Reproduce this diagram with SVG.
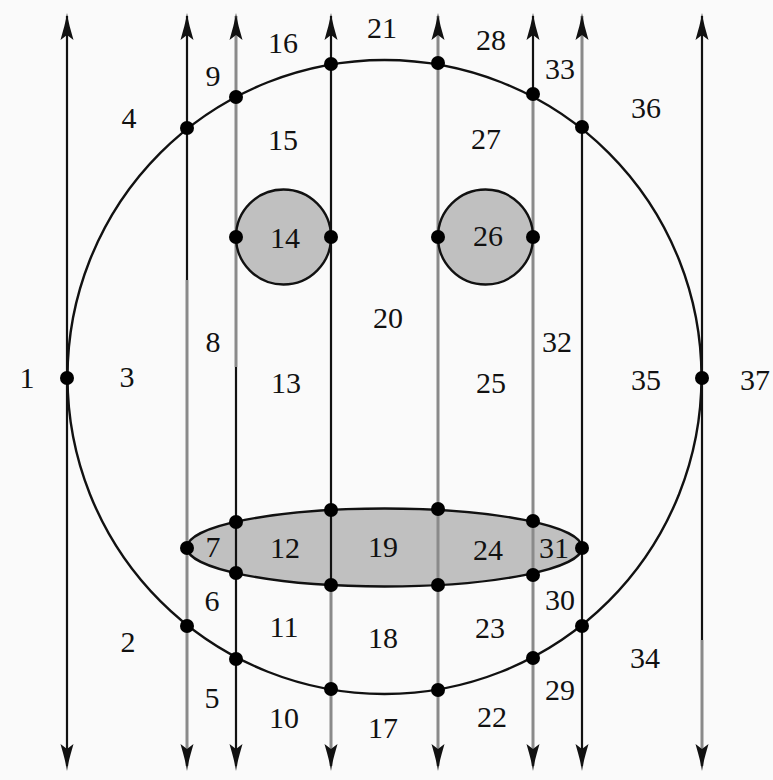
<svg xmlns="http://www.w3.org/2000/svg" xmlns:xlink="http://www.w3.org/1999/xlink" width="773" height="780" viewBox="0 0 773 780">
<style>
.bk{stroke:#111;stroke-width:2.2;fill:none}
.gr{stroke:#8a8a8a;stroke-width:3;fill:none}
.fill{fill:#c0c0c0;stroke:none}
.out{fill:none;stroke:#111;stroke-width:2.4}
.dot{fill:#000}
.lb{font-size:30px;fill:#111;text-anchor:middle}
</style>
<defs>
<path id="ah" d="M0,0 C1,8 4,18 6.5,27 L0,22 L-6.5,27 C-4,18 -1,8 0,0Z" fill="#111"/>
</defs>
<rect width="773" height="780" fill="#fafafa"/>
<g id="fills">
<circle class="fill" cx="283.5" cy="237" r="47.5"/>
<circle class="fill" cx="485.5" cy="237" r="47.5"/>
<ellipse class="fill" cx="384.5" cy="547.5" rx="197.5" ry="39"/>
</g>
<g id="connectors">
<line class="bk" x1="67" y1="16" x2="67" y2="766"/>
<line class="bk" x1="187" y1="16" x2="187" y2="280"/>
<line class="gr" x1="187" y1="280" x2="187" y2="766"/>
<line class="gr" x1="236" y1="16" x2="236" y2="367"/>
<line class="bk" x1="236" y1="367" x2="236" y2="766"/>
<line class="bk" x1="331" y1="16" x2="331" y2="585"/>
<line class="gr" x1="331" y1="585" x2="331" y2="766"/>
<line class="gr" x1="438" y1="16" x2="438" y2="766"/>
<line class="bk" x1="533" y1="16" x2="533" y2="94"/>
<line class="gr" x1="533" y1="94" x2="533" y2="766"/>
<line class="gr" x1="582" y1="16" x2="582" y2="127"/>
<line class="bk" x1="582" y1="127" x2="582" y2="766"/>
<line class="bk" x1="702" y1="16" x2="702" y2="640"/>
<line class="gr" x1="702" y1="640" x2="702" y2="766"/>
<use xlink:href="#ah" transform="translate(67,13)"/>
<use xlink:href="#ah" transform="translate(187,13)"/>
<use xlink:href="#ah" transform="translate(236,13)"/>
<use xlink:href="#ah" transform="translate(331,13)"/>
<use xlink:href="#ah" transform="translate(438,13)"/>
<use xlink:href="#ah" transform="translate(533,13)"/>
<use xlink:href="#ah" transform="translate(582,13)"/>
<use xlink:href="#ah" transform="translate(702,13)"/>
<use xlink:href="#ah" transform="translate(67,771) rotate(180)"/>
<use xlink:href="#ah" transform="translate(187,771) rotate(180)"/>
<use xlink:href="#ah" transform="translate(236,771) rotate(180)"/>
<use xlink:href="#ah" transform="translate(331,771) rotate(180)"/>
<use xlink:href="#ah" transform="translate(438,771) rotate(180)"/>
<use xlink:href="#ah" transform="translate(533,771) rotate(180)"/>
<use xlink:href="#ah" transform="translate(582,771) rotate(180)"/>
<use xlink:href="#ah" transform="translate(702,771) rotate(180)"/>
</g>
<g id="outlines">
<circle id="head" class="out" cx="384.5" cy="377" r="317"/>
<circle id="eye-left" class="out" cx="283.5" cy="237" r="47.5"/>
<circle id="eye-right" class="out" cx="485.5" cy="237" r="47.5"/>
<ellipse id="mouth" class="out" cx="384.5" cy="547.5" rx="197.5" ry="39"/>
</g>
<g id="vertices">
<g id="v1"><circle class="dot" cx="67" cy="378" r="7"/></g>
<g id="v2"><circle class="dot" cx="702" cy="378" r="7"/></g>
<g id="v3"><circle class="dot" cx="187" cy="128" r="7"/></g>
<g id="v4"><circle class="dot" cx="236" cy="97" r="7"/></g>
<g id="v5"><circle class="dot" cx="331" cy="64" r="7"/></g>
<g id="v6"><circle class="dot" cx="438" cy="63" r="7"/></g>
<g id="v7"><circle class="dot" cx="533" cy="94" r="7"/></g>
<g id="v8"><circle class="dot" cx="582" cy="127" r="7"/></g>
<g id="v9"><circle class="dot" cx="187" cy="626" r="7"/></g>
<g id="v10"><circle class="dot" cx="236" cy="659" r="7"/></g>
<g id="v11"><circle class="dot" cx="331" cy="689" r="7"/></g>
<g id="v12"><circle class="dot" cx="438" cy="690" r="7"/></g>
<g id="v13"><circle class="dot" cx="533" cy="658" r="7"/></g>
<g id="v14"><circle class="dot" cx="582" cy="626" r="7"/></g>
<g id="v15"><circle class="dot" cx="236" cy="237" r="7"/></g>
<g id="v16"><circle class="dot" cx="331" cy="237" r="7"/></g>
<g id="v17"><circle class="dot" cx="438" cy="237" r="7"/></g>
<g id="v18"><circle class="dot" cx="533" cy="237" r="7"/></g>
<g id="v19"><circle class="dot" cx="187" cy="548" r="7"/></g>
<g id="v20"><circle class="dot" cx="236" cy="522" r="7"/></g>
<g id="v21"><circle class="dot" cx="331" cy="510" r="7"/></g>
<g id="v22"><circle class="dot" cx="438" cy="509" r="7"/></g>
<g id="v23"><circle class="dot" cx="533" cy="521" r="7"/></g>
<g id="v24"><circle class="dot" cx="582" cy="548" r="7"/></g>
<g id="v25"><circle class="dot" cx="533" cy="575" r="7"/></g>
<g id="v26"><circle class="dot" cx="438" cy="585" r="7"/></g>
<g id="v27"><circle class="dot" cx="331" cy="585" r="7"/></g>
<g id="v28"><circle class="dot" cx="236" cy="573" r="7"/></g>
</g>
<g id="labels" font-family="Liberation Serif, DejaVu Serif, serif">
<text class="lb" x="27" y="388">1</text>
<text class="lb" x="128" y="652">2</text>
<text class="lb" x="127" y="387">3</text>
<text class="lb" x="129" y="128">4</text>
<text class="lb" x="212" y="708">5</text>
<text class="lb" x="212" y="611">6</text>
<text class="lb" x="213" y="557">7</text>
<text class="lb" x="213" y="352">8</text>
<text class="lb" x="213" y="86">9</text>
<text class="lb" x="284" y="728">10</text>
<text class="lb" x="284" y="637">11</text>
<text class="lb" x="285" y="558">12</text>
<text class="lb" x="286" y="393">13</text>
<text class="lb" x="285" y="248">14</text>
<text class="lb" x="283" y="150">15</text>
<text class="lb" x="283" y="53">16</text>
<text class="lb" x="383" y="738">17</text>
<text class="lb" x="383" y="648">18</text>
<text class="lb" x="383" y="557">19</text>
<text class="lb" x="388" y="328">20</text>
<text class="lb" x="382" y="38">21</text>
<text class="lb" x="492" y="727">22</text>
<text class="lb" x="490" y="638">23</text>
<text class="lb" x="488" y="560">24</text>
<text class="lb" x="491" y="393">25</text>
<text class="lb" x="488" y="246">26</text>
<text class="lb" x="486" y="149">27</text>
<text class="lb" x="491" y="50">28</text>
<text class="lb" x="560" y="700">29</text>
<text class="lb" x="560" y="610">30</text>
<text class="lb" x="554" y="558">31</text>
<text class="lb" x="557" y="352">32</text>
<text class="lb" x="560" y="79">33</text>
<text class="lb" x="645" y="668">34</text>
<text class="lb" x="646" y="390">35</text>
<text class="lb" x="646" y="118">36</text>
<text class="lb" x="755" y="390">37</text>
</g>
</svg>
